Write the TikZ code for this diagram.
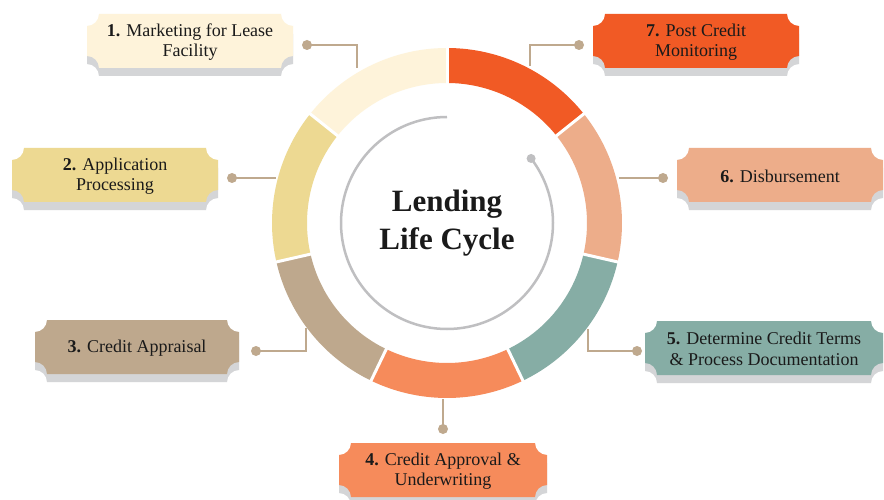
\documentclass[tikz,border=0pt]{standalone}
\usepackage{fontspec}
\setmainfont{Liberation Serif}
\usetikzlibrary{positioning}
\definecolor{lccream} {HTML}{FEF3DA}
\definecolor{lcsand}  {HTML}{EDD992}
\definecolor{lctan}   {HTML}{BEA88D}
\definecolor{lcorange}{HTML}{F68B5B}
\definecolor{lcteal}  {HTML}{86ADA5}
\definecolor{lcsalmon}{HTML}{EDAD8A}
\definecolor{lcred}   {HTML}{F15A25}
\definecolor{lcline}  {HTML}{BFA98E}
\definecolor{lcgrey}  {HTML}{BFBFC1}
\definecolor{lcshade} {HTML}{D4D5D7}
\definecolor{lcink}   {HTML}{1A1A1A}

\tikzset{
  stagetext/.style={font=\fontsize{18}{20.5}\selectfont, text=lcink, align=center},
  link/.style={lcline, line width=2.5pt},
  linkdot/.style={circle, fill=lcline, inner sep=0pt, minimum size=10pt},
  hubdot/.style={circle, fill=lcgrey, inner sep=0pt, minimum size=9pt},
}

% label plate with cut-in corners: fill, centre x, centre y, width, height
\newcommand{\notchfill}[5]{%
  \fill[#1] ({#2-#4/2+12},{#3-#5/2}) -- ++({#4-24},0)
    arc[start angle=180,end angle=90,radius=12] -- ++(0,{#5-24})
    arc[start angle=270,end angle=180,radius=12] -- ++({24-#4},0)
    arc[start angle=0,end angle=-90,radius=12] -- ++(0,{24-#5})
    arc[start angle=90,end angle=0,radius=12] -- cycle;}

% plate with its grey shadow and text: name, x, y, width, fill, text
\newcommand{\stagebox}[6]{%
  \notchfill{lcshade}{#2}{#3+8}{#4}{54}
  \notchfill{#5}{#2}{#3}{#4}{54}
  \node[stagetext] (#1) at (#2,#3+1) {#6};}

\begin{document}
\begin{tikzpicture}[x=1pt, y=-1pt]
\fill[white] (0,0) rectangle (884,500);
\useasboundingbox (0,0) rectangle (884,500);

\coordinate (hub) at (447,223);

% leader lines
\node[linkdot] (d1) at (307,45) {};  \coordinate (e1) at (357,68);
\node[linkdot] (d7) at (579,45) {};  \coordinate (e7) at (530,66);
\node[linkdot] (d2) at (232,178) {}; \coordinate (e2) at (276,178);
\node[linkdot] (d6) at (663,178) {}; \coordinate (e6) at (619,178);
\node[linkdot] (d3) at (256,351) {}; \coordinate (e3) at (306,328);
\node[linkdot] (d5) at (637,351) {}; \coordinate (e5) at (588,329);
\node[linkdot] (d4) at (443,429) {}; \coordinate (e4) at (443,399);
\draw[link] (d1.center) -| (e1);
\draw[link] (d7.center) -| (e7);
\draw[link] (d2.center) -- (e2);
\draw[link] (d6.center) -- (e6);
\draw[link] (d3.center) -| (e3);
\draw[link] (d5.center) -| (e5);
\draw[link] (d4.center) -- (e4);

% ring of seven stages
\foreach \col [count=\i] in {lccream,lcsand,lctan,lcorange,lcteal,lcsalmon,lcred} {
  \pgfmathsetmacro\a{-90-(\i-1)*360/7}
  \pgfmathsetmacro\b{\a-360/7}
  \fill[\col] ([shift={(hub)}]\a:175) arc[start angle=\a,end angle=\b,radius=175]
    -- ([shift={(hub)}]\b:140) arc[start angle=\b,end angle=\a,radius=140] -- cycle;
}
\foreach \i in {0,...,6} {
  \pgfmathsetmacro\a{-90-\i*360/7}
  \draw[white, line width=3pt] ([shift={(hub)}]\a:137) -- ([shift={(hub)}]\a:178);
}

% inner arc
\draw[lcgrey, line width=2.5pt] ([shift={(hub)}]-90:106)
  arc[start angle=-90,end angle=-397.5,radius=106];
\node[hubdot] (tip) at ([shift={(hub)}]-37.5:106) {};

\node[font=\fontsize{31}{38}\selectfont\bfseries, text=lcink, align=center]
  (title) at (hub) {Lending\\Life Cycle};

% stage labels
\stagebox{s1}{190}{41}{206}{lccream}{\textbf{1.} Marketing for Lease\\Facility}
\stagebox{s2}{115}{175}{206}{lcsand}{\textbf{2.} Application\\Processing}
\stagebox{s3}{137}{347}{204}{lctan}{\textbf{3.} Credit Appraisal}
\stagebox{s4}{443}{470}{208}{lcorange}{\textbf{4.} Credit Approval \&\\Underwriting}
\stagebox{s5}{764}{348}{238}{lcteal}{\textbf{5.} Determine Credit Terms\\\& Process Documentation}
\stagebox{s6}{780}{175}{206}{lcsalmon}{\textbf{6.} Disbursement}
\stagebox{s7}{696}{41}{206}{lcred}{\textbf{7.} Post Credit\\Monitoring}
\end{tikzpicture}
\end{document}
